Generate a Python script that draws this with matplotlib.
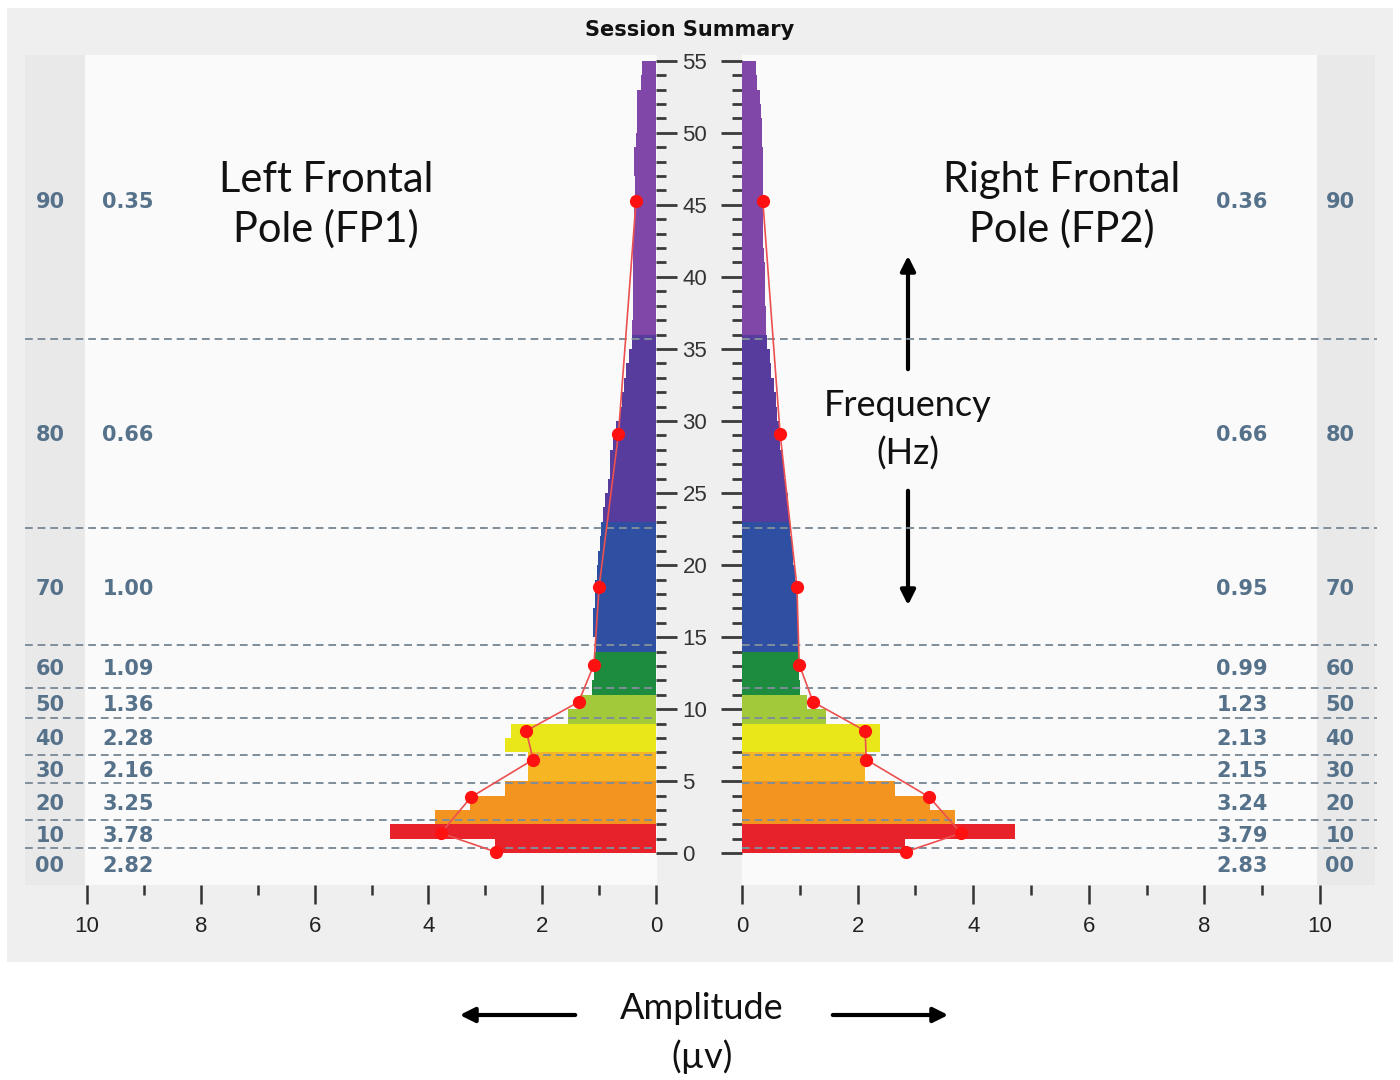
import numpy as np
import matplotlib
matplotlib.use('Agg')
import matplotlib.pyplot as plt
from matplotlib.transforms import blended_transform_factory
from matplotlib.patches import Rectangle

# 1 Hz frequency bins (bottom edge of each bin)
freq_bins = np.arange(55)

left_amp = [2.83, 4.68, 3.89, 3.27, 2.66, 2.25, 2.25, 2.66, 2.54, 1.55,
            1.34, 1.13, 1.09, 1.07, 1.05, 1.10, 1.10, 1.07, 1.07, 1.04,
            1.02, 0.99, 0.97, 0.93, 0.90, 0.84, 0.81, 0.80, 0.75, 0.70,
            0.63, 0.60, 0.57, 0.52, 0.48, 0.43, 0.42, 0.41, 0.41, 0.40,
            0.41, 0.40, 0.40, 0.39, 0.38, 0.37, 0.37, 0.39, 0.38, 0.36,
            0.34, 0.33, 0.34, 0.27, 0.25]
right_amp = [2.82, 4.72, 3.69, 3.25, 2.65, 2.13, 2.13, 2.39, 2.39, 1.46,
             1.12, 1.00, 0.98, 0.98, 0.98, 0.97, 0.97, 0.96, 0.93, 0.92,
             0.88, 0.86, 0.83, 0.81, 0.80, 0.76, 0.73, 0.71, 0.66, 0.64,
             0.60, 0.58, 0.55, 0.51, 0.49, 0.44, 0.42, 0.41, 0.40, 0.40,
             0.39, 0.38, 0.37, 0.37, 0.37, 0.36, 0.37, 0.36, 0.36, 0.35,
             0.34, 0.33, 0.32, 0.26, 0.25]

# band table
band_codes = ['00', '10', '20', '30', '40', '50', '60', '70', '80', '90']
band_edges = [0.35, 2.29, 4.86, 6.81, 9.375, 11.46, 14.44, 22.57, 35.7]
band_dot_freq = [0.1, 1.4, 3.9, 6.5, 8.5, 10.5, 13.1, 18.5, 29.1, 45.3]
left_band_amp = [2.82, 3.78, 3.25, 2.16, 2.28, 1.36, 1.09, 1.00, 0.66, 0.35]
right_band_amp = [2.83, 3.79, 3.24, 2.15, 2.13, 1.23, 0.99, 0.95, 0.66, 0.36]
band_colors = ['#e8222a', '#e8222a', '#f39320', '#f6b522', '#e9e61a',
               '#a2c93a', '#1d8c3f', '#2f4fa2', '#573c9e', '#8147a8']

y_lo, y_hi = -2.2, 55.4

fig = plt.figure(figsize=(14, 10.8), dpi=100)

# background canvas in pixel coordinates
bg = fig.add_axes([0, 0, 1, 1], zorder=-1)
bg.set_xlim(0, 1400)
bg.set_ylim(1080, 0)
bg.axis('off')
bg.add_patch(Rectangle((7, 8), 1386, 954, color='#efefef', lw=0))
bg.add_patch(Rectangle((85, 55), 1232, 830, color='#fafafa', lw=0))
bg.add_patch(Rectangle((25, 55), 60, 830, color='#e9e9e9', lw=0))
bg.add_patch(Rectangle((1317, 55), 58, 830, color='#e9e9e9', lw=0))
bg.add_patch(Rectangle((657, 55), 85, 830, color='#efefef', lw=0))

ax_b = 1 - 885 / 1080
ax_h = 830 / 1080
axL = fig.add_axes([87 / 1400, ax_b, (656 - 87) / 1400, ax_h])
axR = fig.add_axes([742 / 1400, ax_b, (1320 - 742) / 1400, ax_h])

bin_band = np.searchsorted(band_edges, freq_bins + 0.5)
bin_colors = [band_colors[b] for b in bin_band]

for ax, amp, band_amp in [(axL, left_amp, left_band_amp), (axR, right_amp, right_band_amp)]:
    ax.set_facecolor('none')
    ax.barh(freq_bins, amp, height=1.0, align='edge', color=bin_colors, lw=0, zorder=2)
    ax.plot(band_amp, band_dot_freq, color='#ec5050', lw=1.2, zorder=5)
    ax.plot(band_amp, band_dot_freq, 'o', color='#ff1111', ms=8.5, zorder=6)
    ax.set_ylim(y_lo, y_hi)
    for s in ax.spines.values():
        s.set_visible(False)
    ax.set_xticks([0, 2, 4, 6, 8, 10])
    ax.set_xticks([1, 3, 5, 7, 9], minor=True)
    ax.set_yticks(np.arange(0, 56, 5))
    ax.set_yticks(np.arange(0, 56, 1), minor=True)
    ax.tick_params(axis='x', which='major', direction='out', length=14, width=1.8,
                   color='#333333', pad=8, labelsize=16, labelcolor='#222222')
    ax.tick_params(axis='x', which='minor', direction='out', length=7, width=1.8,
                   color='#333333')
    ax.tick_params(axis='y', which='major', direction='out', length=15, width=2,
                   color='#3a3a3a')
    ax.tick_params(axis='y', which='minor', direction='out', length=7.5, width=2,
                   color='#3a3a3a')
    for lab in ax.get_xticklabels():
        lab.set_family('Liberation Sans')

axL.set_xlim(10, 0)
axR.set_xlim(0, 10)
axL.yaxis.tick_right()
axL.tick_params(axis='y', which='major', pad=4, labelsize=16, labelcolor='#333333')
for lab in axL.get_yticklabels():
    lab.set_family('Liberation Sans')
axR.yaxis.tick_left()
axR.tick_params(axis='y', labelleft=False)

# dashed band separators (x in pixels, y in frequency)
trL = blended_transform_factory(bg.transData, axL.transData)
trR = blended_transform_factory(bg.transData, axR.transData)
for e in band_edges:
    axL.plot([25, 657], [e, e], transform=trL, ls=(0, (4, 2.5)), color='#7f8e9a',
             lw=1.4, clip_on=False, zorder=3)
    axR.plot([742, 1377], [e, e], transform=trR, ls=(0, (4, 2.5)), color='#7f8e9a',
             lw=1.4, clip_on=False, zorder=3)

# band table text
row_lo = [-1.9] + band_edges
row_hi = band_edges + [55.0]
tbl = dict(fontsize=15, fontweight='bold', color='#56728a', ha='center',
           va='center_baseline', family='DejaVu Sans', transform=trL)
for i, code in enumerate(band_codes):
    yc = (row_lo[i] + row_hi[i]) / 2
    bg.text(50, yc, code, **tbl)
    bg.text(128, yc, f'{left_band_amp[i]:.2f}', **tbl)
    bg.text(1242, yc, f'{right_band_amp[i]:.2f}', **tbl)
    bg.text(1340, yc, code, **tbl)

# titles and annotations
bg.text(690, 30, 'Session Summary', fontsize=15, fontweight='bold', ha='center',
        va='center', color='#111111', family='DejaVu Sans')
big = dict(fontsize=30, ha='center', va='center', linespacing=1.3,
           family=['Lato', 'DejaVu Sans'], color='#111111')
bg.text(326, 205, 'Left Frontal\nPole (FP1)', **big)
bg.text(1062, 205, 'Right Frontal\nPole (FP2)', **big)
mid = dict(fontsize=26, ha='center', va='center', linespacing=1.5,
           family=['Lato', 'DejaVu Sans'], color='#111111')
bg.text(908, 430, 'Frequency\n(Hz)', **mid)
bg.text(702, 1033, 'Amplitude\n(µv)', **mid)

arrow = dict(arrowstyle='-|>', lw=3, color='black', mutation_scale=22)
bg.annotate('', xy=(908, 253), xytext=(908, 372), arrowprops=arrow)
bg.annotate('', xy=(908, 608), xytext=(908, 488), arrowprops=arrow)
bg.annotate('', xy=(457, 1015), xytext=(578, 1015), arrowprops=arrow)
bg.annotate('', xy=(951, 1015), xytext=(830, 1015), arrowprops=arrow)

fig.savefig('out.png', dpi=100)
